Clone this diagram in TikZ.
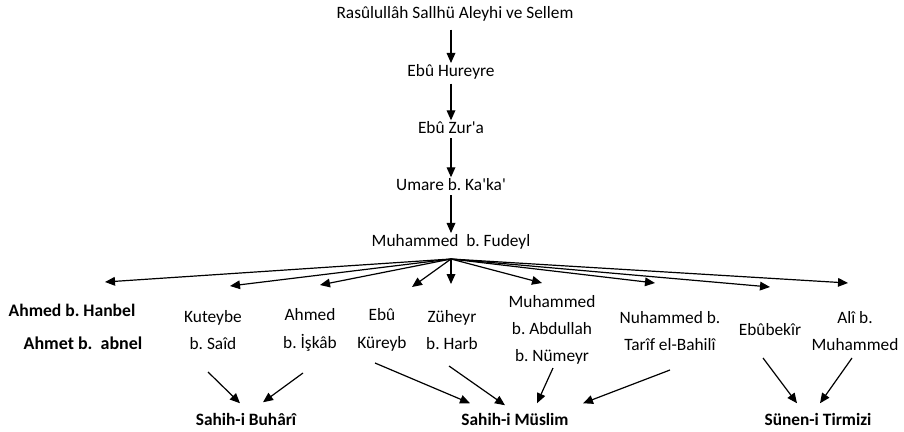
\documentclass[tikz,border=0pt]{standalone}
\usepackage{fontspec}
\setmainfont{Carlito}
\usetikzlibrary{arrows.meta}
\usetikzlibrary{calc}

\tikzset{
  person/.style={font=\fontsize{13}{20.5}\selectfont, align=center, inner sep=1pt},
  book/.style={font=\fontsize{13}{16}\selectfont\bfseries, inner sep=1pt},
  arr/.style={line width=0.9pt, -{Triangle[length=7.5pt,width=6.5pt]}}
}

\begin{document}
\frenchspacing
\begin{tikzpicture}[x=0.75pt,y=-0.75pt]
                \useasboundingbox (0,0) rectangle (904,432);
                % the chain
                \node[person] (rasul) at (455,14) {Rasûlullâh Sallhü Aleyhi ve Sellem};
                \node[person] (hureyre) at (451,72) {Ebû Hureyre};
                \node[person] (zura) at (451,128) {Ebû Zur\textquotesingle a};
                \node[person] (umare) at (451,185) {Umare b. Ka\textquotesingle ka\textquotesingle};
                \node[person] (fudeyl) at (451,242) {Muhammed~~b. Fudeyl};
                \draw[arr, shorten <=5pt] (hureyre.north |- rasul.south) -- (hureyre.north);
                \draw[arr, shorten <=2pt] (hureyre) -- (zura);
                \draw[arr, shorten <=2pt] (zura) -- (umare);
                \draw[arr, shorten <=2pt] (umare) -- (fudeyl);

                % the students
                \node[book, font=\fontsize{13.2}{15}\selectfont\bfseries] (hanbel) at (72,310) {Ahmed b. Hanbel};
                \node[book, font=\fontsize{13.5}{16}\selectfont\bfseries] (abnel) at (83,343) {Ahmet b.~~abnel};
                \node[person] (kuteybe) at (213,330) {Kuteybe\\b. Saîd};
                \node[person] (iskab) at (310,330) {Ahmed\\b. İşkâb};
                \node[person] (kureyb) at (382,330) {Ebû\\Küreyb};
                \node[person] (zuheyr) at (452,330) {Züheyr\\b. Harb};
                \node[person] (abdullah) at (552,330) {Muhammed\\b. Abdullah\\b. Nümeyr};
                \node[person] (tarif) at (670,331) {Nuhammed b.\\Tarîf el-Bahilî};
                \node[person] (ebubekir) at (770,330) {Ebûbekîr};
                \node[person] (ali) at (855,331) {Alî b.\\Muhammed};

                % the books
                \node[book] (buhari) at (246,419) {Sahih-i Buhârî};
                \node[book] (muslim) at (515,419) {Sahih-i Müslim};
                \node[book] (tirmizi) at (818,419) {Sünen-i Tirmizi};

                % where the arrows end
                \coordinate (fan) at (451,259);
                \coordinate (to-hanbel) at (105,282);
                \coordinate (to-kuteybe) at (230,286);
                \coordinate (to-iskab) at (320,285);
                \coordinate (to-kureyb) at (412,287);
                \coordinate (to-zuheyr) at (451,284);
                \coordinate (to-abdullah) at (542,283);
                \coordinate (to-tarif) at (655,283);
                \coordinate (to-ebubekir) at (770,287);
                \coordinate (to-ali) at (848,283);
                \foreach \n in {hanbel,kuteybe,iskab,kureyb,zuheyr,abdullah,tarif,ebubekir,ali}
                    \draw[arr] (fan) -- (to-\n);

                \coordinate (kuteybe-out) at (208,372);
                \coordinate (iskab-out) at (303,373);
                \coordinate (kureyb-out) at (375,363);
                \coordinate (zuheyr-out) at (449,366);
                \coordinate (abdullah-out) at (553,368);
                \coordinate (tarif-out) at (670,370);
                \coordinate (ebubekir-out) at (763,358);
                \coordinate (ali-out) at (852,358);
                \draw[arr] (kuteybe-out) -- ($(buhari.north)+(-6,-8)$);
                \draw[arr] (iskab-out) -- ($(buhari.north)+(17,-9)$);
                \draw[arr] (kureyb-out) -- ($(muslim.north)+(-45,-8)$);
                \draw[arr] (zuheyr-out) -- ($(muslim.north)+(-10,-6)$);
                \draw[arr] (abdullah-out) -- ($(muslim.north)+(22,-8)$);
                \draw[arr] (tarif-out) -- ($(muslim.north)+(68,-8)$);
                \draw[arr] (ebubekir-out) -- ($(tirmizi.north)+(-21,-8)$);
                \draw[arr] (ali-out) -- ($(tirmizi.north)+(2,-8)$);

            \end{tikzpicture}
\end{document}
